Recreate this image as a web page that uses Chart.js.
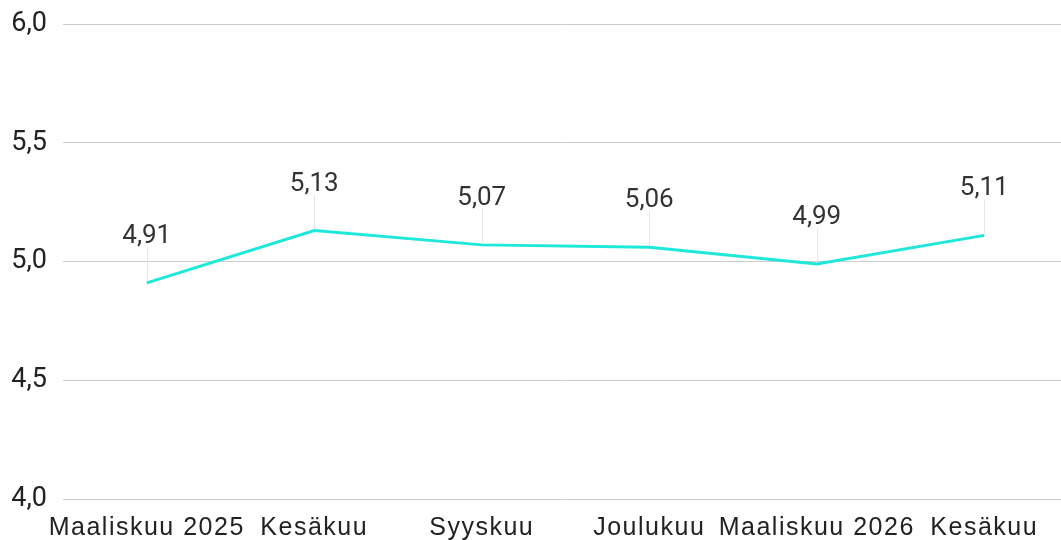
<!DOCTYPE html>
<html>
<head>
<meta charset="utf-8">
<script src="https://cdn.jsdelivr.net/npm/chart.js@4"></script>
<style>
  html, body { margin: 0; padding: 0; background: #fff; overflow: hidden; }
  #wrap { width: 1068px; height: 540px; }
</style>
</head>
<body>
<div id="wrap"><canvas id="myChart"></canvas></div>
<script>
const categories = ['Maaliskuu 2025', 'Kesäkuu', 'Syyskuu', 'Joulukuu', 'Maaliskuu 2026', 'Kesäkuu'];
const values = [4.91, 5.13, 5.07, 5.06, 4.99, 5.11];
const yTicks = [4.0, 4.5, 5.0, 5.5, 6.0];

const fmt = (v, d) => v.toFixed(d).replace('.', ',');

// labels above points with a thin leader line
const pointLabels = {
  id: 'pointLabels',
  afterDatasetsDraw(chart) {
    const ctx = chart.ctx;
    const meta = chart.getDatasetMeta(0);
    ctx.save();
    meta.data.forEach((pt, i) => {
      ctx.strokeStyle = '#e6e6e6';
      ctx.lineWidth = 1;
      ctx.beginPath();
      ctx.moveTo(Math.round(pt.x) + 0.5, pt.y - 36);
      ctx.lineTo(Math.round(pt.x) + 0.5, pt.y - 2);
      ctx.stroke();
      ctx.fillStyle = '#333';
      ctx.font = '26px Roboto';
      ctx.textAlign = 'center';
      ctx.textBaseline = 'alphabetic';
      ctx.fillText(fmt(values[i], 2), pt.x, pt.y - 40);
    });
    ctx.restore();
  }
};

// the x labels are a bit wider spaced than plain Arial
const spacedLabels = {
  id: 'spacedLabels',
  beforeDraw(chart) {
    const sc = chart.scales.x;
    if (sc._spaced) return;
    const orig = sc.drawLabels.bind(sc);
    sc.drawLabels = (area) => {
      chart.ctx.save();
      chart.ctx.letterSpacing = '1.5px';
      orig(area);
      chart.ctx.restore();
    };
    sc._spaced = true;
  }
};

const data = {
  labels: categories,
  datasets: [{
    data: values,
    borderColor: '#1ee8d9',
    borderWidth: 3,
    pointRadius: 0,
    tension: 0,
    fill: false
  }]
};

const config = {
  type: 'line',
  data,
  plugins: [pointLabels, spacedLabels],
  options: {
    responsive: true,
    maintainAspectRatio: false,
    animation: false,
    layout: { padding: { top: 24, right: 0, left: 0, bottom: 0 } },
    plugins: { legend: { display: false }, tooltip: { enabled: false } },
    scales: {
      x: {
        offset: true,
        grid: { display: false },
        border: { display: false },
        afterFit: (scale) => { scale.height = 41; scale.paddingLeft = 0; scale.paddingRight = 0; },
        ticks: {
          autoSkip: false,
          maxRotation: 0,
          padding: 6,
          color: '#222',
          font: { family: 'Liberation Sans', size: 25 }
        }
      },
      y: {
        min: 4,
        max: 6,
        afterFit: (scale) => { scale.width = 63; scale.paddingTop = 0; scale.paddingBottom = 0; },
        afterBuildTicks: (scale) => { scale.ticks = yTicks.map(v => ({ value: v })); },
        grid: { color: '#cccccc', lineWidth: 1, drawTicks: false },
        border: { display: false },
        ticks: {
          padding: 16,
          color: '#222',
          font: { family: 'Roboto', size: 27 },
          callback: (v) => fmt(v, 1)
        }
      }
    }
  }
};

const myChart = new Chart(document.getElementById('myChart'), config);
</script>
</body>
</html>
